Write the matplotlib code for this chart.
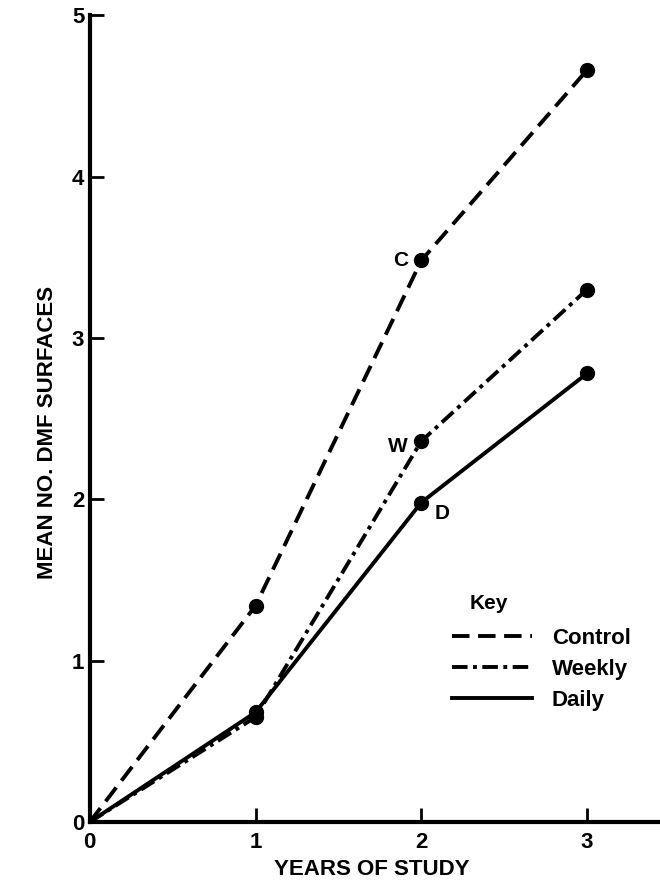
import numpy as np
import matplotlib
matplotlib.use("Agg")
from matplotlib import pyplot as plt
from matplotlib.lines import Line2D

plt.rcParams['font.family'] = ['Liberation Sans', 'DejaVu Sans']
plt.rcParams['font.weight'] = 'bold'

# data
years = [0, 1, 2, 3]
control = [0, 1.34, 3.48, 4.66]
weekly = [0, 0.65, 2.36, 3.30]
daily = [0, 0.68, 1.98, 2.78]

fig = plt.figure(figsize=(6.6, 8.94), dpi=100)
ax = fig.add_axes([0.136, 0.0805, 0.864, 0.9025])

lw = 2.8
ms = 10
dash_c = (4.5, 2.2)
dash_w = (4, 1.4, 1, 1.4)
ax.plot(years, control, color='black', lw=lw, dashes=dash_c,
        marker='o', ms=ms, markevery=[1, 2, 3])
ax.plot(years, weekly, color='black', lw=lw, dashes=dash_w,
        marker='o', ms=ms, markevery=[1, 2, 3])
ax.plot(years, daily, color='black', lw=lw,
        marker='o', ms=ms, markevery=[1, 2, 3])

# letters beside the year-2 points
ax.text(years[2] - 0.08, control[2], 'C', ha='right', va='center', fontsize=15)
ax.text(years[2] - 0.08, weekly[2] - 0.03, 'W', ha='right', va='center', fontsize=15)
ax.text(years[2] + 0.08, daily[2] - 0.07, 'D', ha='left', va='center', fontsize=15)

ax.set_xlim(0, 3.44)
ax.set_ylim(0, 5)
ax.set_xticks([0, 1, 2, 3])
ax.set_yticks([0, 1, 2, 3, 4, 5])
ax.tick_params(direction='in', length=10, width=2, labelsize=16)
ax.tick_params(axis='x', pad=7)
ax.tick_params(axis='y', pad=4)
for lab in ax.get_xticklabels() + ax.get_yticklabels():
    lab.set_fontweight('bold')

for s in ['top', 'right']:
    ax.spines[s].set_visible(False)
for s in ['left', 'bottom']:
    ax.spines[s].set_linewidth(3)

ax.set_xlabel('YEARS OF STUDY', fontsize=16, fontweight='bold')
ax.set_ylabel('MEAN NO. DMF SURFACES', fontsize=16, fontweight='bold')
ax.xaxis.set_label_coords(0.495, -0.046)
ax.yaxis.set_label_coords(-0.056, 0.483)

# key
ax.text(0.667, 0.271, 'Key', transform=ax.transAxes, fontsize=15,
        ha='left', va='center')
handles = [Line2D([], [], color='black', lw=lw, dashes=dash_c),
           Line2D([], [], color='black', lw=lw, dashes=dash_w),
           Line2D([], [], color='black', lw=lw)]
leg = ax.legend(handles, ['Control', 'Weekly', 'Daily'], loc='upper left',
                bbox_to_anchor=(0.6, 0.265), frameon=False,
                handlelength=3.6, handletextpad=0.9, labelspacing=0.45,
                prop={'size': 16, 'weight': 'bold'})

plt.savefig("out.png", dpi=100)
